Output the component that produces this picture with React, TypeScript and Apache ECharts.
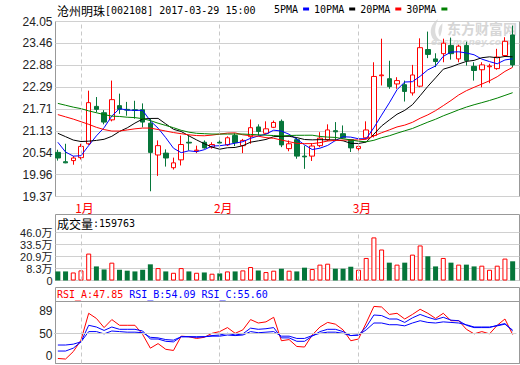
import React, { useEffect, useRef } from "react";
import * as echarts from "echarts";

// ---------- data ----------
const stockName = "沧州明珠";
const stockCode = "002108";
const stamp = "2017-03-29 15:00";
const lastVolume = 159763;

const dates = [
  "2016-12-28", "2016-12-29", "2016-12-30",
  "2017-01-03", "2017-01-04", "2017-01-05", "2017-01-06",
  "2017-01-09", "2017-01-10", "2017-01-11", "2017-01-12", "2017-01-13",
  "2017-01-16", "2017-01-17", "2017-01-18", "2017-01-19", "2017-01-20",
  "2017-01-23", "2017-01-24", "2017-01-25", "2017-01-26",
  "2017-02-03",
  "2017-02-06", "2017-02-07", "2017-02-08", "2017-02-09", "2017-02-10",
  "2017-02-13", "2017-02-14", "2017-02-15", "2017-02-16", "2017-02-17",
  "2017-02-20", "2017-02-21", "2017-02-22", "2017-02-23", "2017-02-24",
  "2017-02-27", "2017-02-28",
  "2017-03-01", "2017-03-02", "2017-03-03",
  "2017-03-06", "2017-03-07", "2017-03-08", "2017-03-09", "2017-03-10",
  "2017-03-13", "2017-03-14", "2017-03-15", "2017-03-16", "2017-03-17",
  "2017-03-20", "2017-03-21", "2017-03-22", "2017-03-23", "2017-03-24",
  "2017-03-27", "2017-03-28", "2017-03-29",
];
const monthStarts = ["2017-01-03", "2017-02-03", "2017-03-01"];

const opens = [
  20.55, 20.30, 20.33, 20.41, 20.78, 21.78, 21.61, 21.42, 21.80, 21.70,
  21.69, 21.69, 21.33, 20.48, 20.53, 20.14, 20.35, 20.82, 20.59, 20.82,
  20.69, 20.82, 20.75, 21.00, 20.73, 20.97, 21.23, 21.06, 21.22, 21.38,
  20.65, 20.89, 20.45, 20.45, 20.73, 20.89, 21.13, 21.05, 20.89, 20.65,
  20.94, 21.00, 22.60, 22.52, 22.38, 22.36, 22.14, 22.32, 23.30, 23.05,
  23.19, 23.41, 23.05, 23.41, 22.85, 22.76, 22.84, 22.79, 23.14, 23.69,
];
const closes = [
  20.40, 20.27, 20.40, 20.71, 21.88, 21.70, 21.36, 21.96, 21.70, 21.68,
  21.67, 21.36, 20.55, 20.73, 20.40, 20.27, 20.76, 20.80, 20.61, 20.67,
  20.76, 20.80, 20.94, 20.81, 20.87, 21.21, 21.11, 21.18, 21.35, 20.75,
  20.78, 20.45, 20.43, 20.72, 20.93, 21.15, 21.10, 20.94, 20.67, 20.71,
  21.15, 22.58, 22.62, 22.31, 22.47, 22.18, 22.62, 23.35, 23.17, 22.98,
  23.47, 23.19, 23.39, 23.01, 22.74, 22.89, 22.86, 23.10, 23.52, 22.89,
];
const lows = [
  20.33, 20.26, 20.22, 20.36, 20.75, 21.62, 21.30, 21.38, 21.58, 21.53,
  21.45, 21.22, 19.51, 19.92, 20.17, 20.09, 20.20, 20.60, 20.53, 20.65,
  20.65, 20.68, 20.72, 20.72, 20.53, 20.78, 21.00, 21.04, 21.20, 20.69,
  20.58, 20.38, 20.11, 20.32, 20.69, 20.85, 20.85, 20.92, 20.56, 20.53,
  20.92, 20.95, 22.34, 22.25, 22.25, 21.91, 22.07, 22.29, 23.07, 22.83,
  22.96, 23.03, 22.96, 22.87, 22.47, 22.29, 22.40, 22.76, 23.10, 22.83,
];
const highs = [
  20.62, 20.78, 20.45, 20.78, 22.20, 22.03, 21.68, 22.47, 22.12, 21.90,
  21.93, 21.86, 21.46, 20.87, 20.63, 20.41, 21.00, 21.00, 20.73, 20.87,
  20.82, 20.91, 20.98, 21.06, 20.91, 21.43, 21.30, 21.38, 21.40, 21.43,
  20.87, 20.94, 20.73, 20.80, 21.09, 21.30, 21.36, 21.27, 20.89, 20.78,
  21.38, 22.96, 23.59, 23.00, 22.56, 22.47, 22.89, 23.60, 23.78, 23.20,
  23.59, 23.62, 23.43, 23.51, 22.96, 22.96, 22.92, 23.32, 23.63, 23.94,
];

const ma5Head = [20.82, 20.56, 20.45, 20.46];
const ma10Head = [21.06, 20.97, 20.88, 20.84, 20.85, 20.87, 20.90, 20.98, 21.11];
const ma20Head = [
  21.56, 21.50, 21.44, 21.37, 21.30, 21.22, 21.16, 21.12, 21.12, 21.15,
  21.18, 21.20, 21.20, 21.16, 21.12, 21.08, 21.05, 21.02, 21.00,
];
const ma30Head = [
  21.86, 21.81, 21.76, 21.72, 21.66, 21.61, 21.56, 21.52, 21.51, 21.49,
  21.48, 21.45, 21.40, 21.33, 21.27, 21.21, 21.14, 21.09, 21.06, 21.05,
  21.04, 21.04, 21.04, 21.04, 21.04, 21.03, 21.02, 21.01, 21.00,
];

// volume, 万股
const volumes = [
  8.7, 8.7, 7.7, 9.7, 25.8, 13.5, 10.6, 17.1, 10.3, 9.4,
  8.7, 10.3, 15.5, 11.9, 8.7, 7.4, 11.9, 8.7, 7.4, 7.7,
  6.5, 6.8, 8.7, 8.7, 9.7, 12.9, 9.7, 8.1, 9.4, 11.3,
  9.4, 8.7, 12.3, 11.0, 15.2, 16.1, 11.3, 11.3, 13.2, 10.3,
  21.6, 41.3, 29.7, 17.1, 15.2, 17.1, 24.8, 33.6, 23.2, 13.5,
  21.6, 17.1, 15.2, 15.2, 13.5, 14.2, 10.3, 14.2, 21.0, 18.4,
];

const rsiA = [
  6, 5, 18, 38, 85, 76, 60, 74, 64, 64,
  64, 48, 24, 32, 22, 20, 45, 44, 41, 43,
  50, 53, 60, 50, 56, 74, 68, 70, 78, 37,
  39, 27, 26, 47, 61, 69, 66, 56, 37, 40,
  68, 97, 96, 83, 85, 75, 83, 92, 85, 76,
  85, 72, 72, 57, 49, 53, 49, 64, 75, 47.85,
];
const rsiB = [
  19, 19, 24, 35, 64, 61, 55, 61, 57, 57,
  57, 54, 40, 40, 36, 35, 44, 44, 43, 44,
  46, 47, 50, 47, 49, 59, 57, 58, 60, 42,
  42, 36, 36, 45, 53, 57, 57, 53, 46, 47,
  61, 82, 81, 75, 75, 69, 77, 83, 78, 74,
  78, 73, 72, 64, 60, 60, 60, 64, 67, 54.09,
];
const rsiC = [
  29.5, 29.5, 31, 35, 53, 53, 49, 54, 53, 52,
  52, 51, 43, 42, 39, 38, 44, 44, 44, 44,
  45, 45, 47, 46, 47, 53, 51, 52, 53, 45,
  45, 41, 41, 46, 50, 52, 52, 50, 46, 47,
  56, 68, 68, 65, 65, 63, 68, 72, 69, 68,
  70, 69, 68, 65, 61, 61, 61, 63, 66, 55.6,
];

const priceTicks = ["19.37", "19.96", "20.54", "21.13", "21.71", "22.29", "22.88", "23.46", "24.05"];
const volTicks = ["0", "8.3万", "20.9万", "33.5万", "46.0万"];
const rsiTicks = ["0", "50", "89"];
const maNames = ["5PMA", "10PMA", "20PMA", "30PMA"];
const maPeriods = [5, 10, 20, 30];

// ---------- styles ----------
const RED = "#ff0000";
const GREEN = "#06763a";
const MA_COLORS = ["#0000ff", "#000000", "#ff0000", "#008000"];
const GRID_C = "#d0d0d0";
const FRAME_C = "#999999";
const AXIS_FONT = '"Liberation Sans", "Noto Sans CJK SC", sans-serif';
const MONO = '"DejaVu Sans Mono", monospace';
const CJK = '"Noto Sans CJK SC", sans-serif';

echarts.graphic.registerShape(
  "emLogo",
  echarts.graphic.extendPath(
    "M12 0 C4 5 1 14 5 22 C7 26 12 27 15 25 C8 22 6 12 12 0 Z M17 5 C12 9 11 16 14 21 C16 17 17 11 17 5 Z",
    {}
  )
);

function movingAverage(n: number, head: number[]) {
  return closes.map((_, i) => {
    if (i < n - 1) return head[i];
    let s = 0;
    for (let k = i - n + 1; k <= i; k++) s += closes[k];
    return +(s / n).toFixed(3);
  });
}

function isUp(i: number) {
  if (closes[i] !== opens[i]) return closes[i] > opens[i];
  return i === 0 || closes[i] >= closes[i - 1];
}

export default function App() {
  const ref = useRef<HTMLDivElement>(null);

  useEffect(() => {
    const chart = echarts.init(ref.current!, null, { renderer: "svg" });

    const FL = 55.5, FW = 464, PL = 54, PW = 462.5;
    const frame = { show: true, borderColor: FRAME_C, borderWidth: 1, backgroundColor: "transparent" };
    const grid = [
      { left: FL, top: 21.5, width: FW, height: 175, ...frame }, // 0 price frame + labels
      { left: PL, top: 21.5, width: PW, height: 175 }, // 1 price plot
      { left: FL, top: 214.5, width: FW, height: 66, ...frame }, // 2 volume frame
      { left: FL, top: 232.5, width: FW, height: 48, ...frame }, // 3 volume labels
      { left: PL, top: 232.5, width: PW, height: 48 }, // 4 volume plot
      { left: FL, top: 287.5, width: FW, height: 76, ...frame }, // 5 rsi frame
      { left: FL, top: 301.5, width: FW, height: 62, ...frame }, // 6 rsi plot frame
      { left: PL, top: 301.5, width: PW, height: 62 }, // 7 rsi plot
      { left: FL, top: 311, width: FW, height: 45 }, // 8 rsi labels
    ].map((g) => ({ outerBoundsMode: "none", containLabel: false, ...g }));

    const hiddenX = (i: number) => ({ type: "value", gridIndex: i, min: 0, max: 1, show: false, splitLine: { show: false } });
    const hiddenY = (i: number) => ({ type: "value", gridIndex: i, min: 0, max: 1, show: false, splitLine: { show: false } });
    const catX = (i: number) => ({
      type: "category", gridIndex: i, data: dates, boundaryGap: true, show: false,
      splitLine: { show: false },
    });
    const labelStyle = { color: "#222", fontFamily: AXIS_FONT, fontSize: 12, margin: 3 };

    const xAxis = [
      hiddenX(0),
      {
        type: "category", gridIndex: 1, data: dates, boundaryGap: true,
        axisLine: { show: false }, axisTick: { show: false }, splitLine: { show: false },
        axisLabel: {
          interval: (_: number, v: string) => monthStarts.includes(v),
          formatter: (v: string) => `{m|${parseInt(v.slice(5, 7), 10)}月}`,
          margin: 5,
          rich: { m: { fontFamily: CJK, fontSize: 12, color: RED, padding: [0, 0, 0, 7] } },
        },
      },
      hiddenX(2), hiddenX(3), catX(4), hiddenX(5), hiddenX(6), catX(7), hiddenX(8),
    ];

    const yAxis = [
      {
        type: "value", gridIndex: 0, min: 19.37, max: 24.05, interval: 0.585,
        axisLine: { show: false }, axisTick: { show: false },
        splitLine: { show: true, lineStyle: { color: GRID_C, width: 1 } },
        axisLabel: { ...labelStyle, formatter: (_: number, i: number) => priceTicks[i] ?? "" },
      },
      { type: "value", gridIndex: 1, min: 19.37, max: 24.05, show: false, splitLine: { show: false } },
      hiddenY(2),
      {
        type: "value", gridIndex: 3, min: -4.27, max: 46.01, interval: 12.57,
        axisLine: { show: false }, axisTick: { show: false },
        splitLine: { show: true, lineStyle: { color: GRID_C, width: 1 } },
        axisLabel: { ...labelStyle, fontSize: 11, lineHeight: 10, formatter: (_: number, i: number) => volTicks[i] ?? "" },
      },
      { type: "value", gridIndex: 4, min: 0, max: 46, show: false, splitLine: { show: false } },
      hiddenY(5), hiddenY(6),
      { type: "value", gridIndex: 7, min: -2.8, max: 105.6, show: false, splitLine: { show: false } },
      {
        type: "value", gridIndex: 8, min: 0, max: 2, interval: 1,
        axisLine: { show: false }, axisTick: { show: false }, splitLine: { show: false },
        axisLabel: { ...labelStyle, formatter: (_: number, i: number) => rsiTicks[i] ?? "" },
      },
    ];

    const monthLine = (extra: any[] = []) => ({
      silent: true,
      symbol: ["none", "none"],
      label: { show: false },
      emphasis: { disabled: true },
      lineStyle: { color: "#c8c8c8", type: [4, 3], width: 1 },
      data: [...monthStarts.map((d) => ({ xAxis: d })), ...extra],
      animation: false,
    });

    const candleData = dates.map((_, i) => [opens[i], closes[i], lows[i], highs[i]]);
    const maSeries = maPeriods.map((p, k) => ({
      type: "line",
      name: maNames[k],
      xAxisIndex: 1,
      yAxisIndex: 1,
      data: movingAverage(p, [ma5Head, ma10Head, ma20Head, ma30Head][k]),
      showSymbol: false,
      symbol: "none",
      color: MA_COLORS[k],
      lineStyle: { width: 1, color: MA_COLORS[k] },
      z: 3,
    }));
    const volData = volumes.map((v, i) => ({
      value: v,
      itemStyle: isUp(i)
        ? { color: "#ffffff", borderColor: RED, borderWidth: 1 }
        : { color: GREEN, borderColor: GREEN, borderWidth: 0 },
    }));
    const rsiLine = (name: string, data: number[], color: string, extra: any = {}) => ({
      type: "line", name, xAxisIndex: 7, yAxisIndex: 7, data,
      showSymbol: false, symbol: "none", color,
      lineStyle: { width: 1, color }, z: 3, ...extra,
    });

    const headerRich = {
      c: { fontFamily: CJK, fontSize: 12, fontWeight: "normal", color: "#000", lineHeight: 14 },
      m: { fontFamily: MONO, fontSize: 10, fontWeight: "normal", color: "#000", lineHeight: 14 },
    };

    const option: any = {
      animation: false,
      textStyle: { fontFamily: AXIS_FONT },
      title: [
        {
          left: 57, top: 3, padding: 0,
          text: `{c|${stockName}}{m|[${stockCode}] ${stamp}}`,
          textStyle: { fontWeight: "normal", rich: headerRich },
        },
        {
          left: 57, top: 216.5, padding: 0,
          text: `{c|成交量}{m|:${lastVolume}}`,
          textStyle: { fontWeight: "normal", rich: headerRich },
        },
        {
          left: 57, top: 288, padding: 0,
          text: `{a|RSI_A:${rsiA[59].toFixed(2)}} {b|RSI_B:${rsiB[59].toFixed(2)}} {b|RSI_C:${rsiC[59].toFixed(2)}}`,
          textStyle: {
            fontFamily: MONO, fontSize: 10, lineHeight: 13, fontWeight: "normal",
            rich: {
              a: { fontFamily: MONO, fontSize: 10, fontWeight: "normal", color: RED, lineHeight: 13 },
              b: { fontFamily: MONO, fontSize: 10, fontWeight: "normal", color: "#0000ff", lineHeight: 13 },
            },
          },
        },
      ],
      legend: {
        data: maNames,
        left: 274, top: 4, padding: 0, itemGap: 5,
        itemWidth: 6, itemHeight: 3, icon: "rect", align: "right",
        selectedMode: false,
        textStyle: { fontFamily: MONO, fontSize: 10, color: "#000" },
      },
      graphic: [
        { type: "emLogo", x: 428, y: 19, scaleX: 0.85, scaleY: 0.85, z: 0, silent: true, style: { fill: "#dcdcdc" } },
        {
          type: "text", x: 447, y: 21, z: 0, silent: true,
          style: { text: "东方财富网", fontFamily: CJK, fontSize: 14, fontWeight: "bold", fill: "#d6d6d6", verticalAlign: "top", lineHeight: 14 },
        },
        {
          type: "text", x: 431, y: 37, z: 0, silent: true,
          style: { text: "eastmoney.com", fontFamily: '"DejaVu Sans", sans-serif', fontSize: 9, fontStyle: "italic", fontWeight: "bold", fill: "#dcdcdc", verticalAlign: "top", lineHeight: 9 },
        },
      ],
      grid,
      xAxis,
      yAxis,
      series: [
        {
          type: "candlestick", name: "K", xAxisIndex: 1, yAxisIndex: 1,
          data: candleData, barWidth: 5,
          itemStyle: { color: "#ffffff", color0: GREEN, borderColor: RED, borderColor0: GREEN, borderWidth: 1 },
          markLine: monthLine(),
          z: 2,
        },
        ...maSeries,
        {
          type: "bar", name: "VOL", xAxisIndex: 4, yAxisIndex: 4,
          data: volData, barWidth: 5,
          markLine: monthLine(),
        },
        rsiLine("RSI_A", rsiA, RED, {
          markLine: monthLine([{ yAxis: 50, lineStyle: { type: "solid", color: "#cccccc", width: 1 } }]),
        }),
        rsiLine("RSI_B", rsiB, "#0000ff"),
        rsiLine("RSI_C", rsiC, "#0000ff"),
      ],
    };

    chart.setOption(option);
    return () => chart.dispose();
  }, []);

  return (
    <div
      ref={ref}
      style={{ position: "fixed", left: 0, top: 0, width: 520, height: 365, background: "#fff" }}
    />
  );
}
